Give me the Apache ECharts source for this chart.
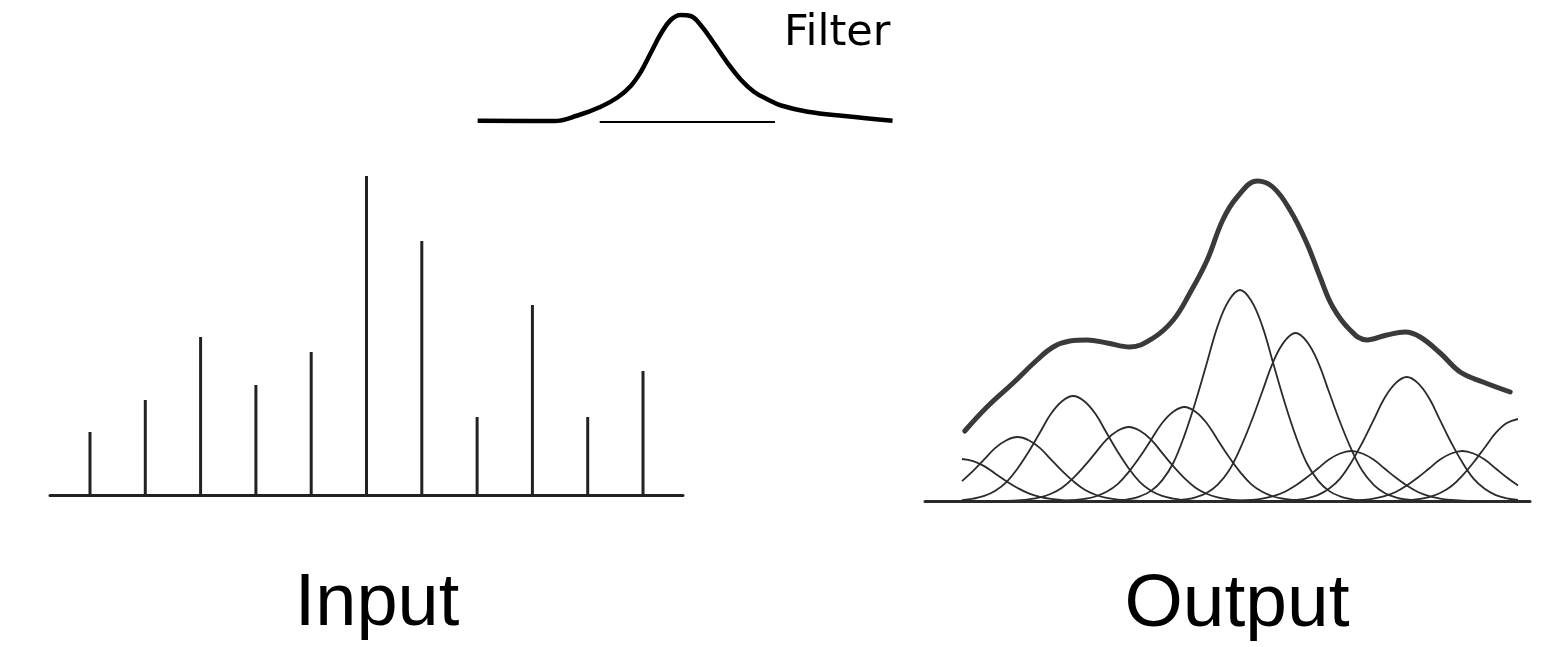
<!DOCTYPE html>
<html>
<head>
<meta charset="utf-8">
<script src="https://cdn.jsdelivr.net/npm/echarts@6/dist/echarts.min.js"></script>
<style>
  html, body { margin: 0; padding: 0; background: #fff; }
  #main { width: 1554px; height: 647px; }
</style>
</head>
<body>
<div id="main"></div>
<script>
// input spikes (position index, height)
var spikePos = [1, 2, 3, 4, 5, 6, 7, 8, 9, 10, 11];
var spikeHeights = [63, 95, 158, 110, 143, 319, 254, 78, 190, 78, 124];

// output: one bump per input spike, peak heights
var bumpPeaks = [42, 64, 105, 74, 94, 211, 168, 50, 124, 50, 82];
// shape of one bump (offset from its centre, relative height)
var bumpOffsets = [-2.2, -2, -1.8, -1.6, -1.4, -1.2, -1, -0.8, -0.6, -0.4, -0.2, 0, 0.2, 0.4, 0.6, 0.8, 1, 1.2, 1.4, 1.6, 1.8, 2, 2.2];
var bumpShape = [0, 0.009, 0.022, 0.048, 0.098, 0.18, 0.31, 0.47, 0.65, 0.83, 0.95, 1, 0.95, 0.83, 0.65, 0.47, 0.31, 0.18, 0.098, 0.048, 0.022, 0.009, 0];

// thick summed output curve
var sumX = [1.05, 1.45, 1.92, 2.35, 2.64, 2.94, 3.25, 3.61, 4.02, 4.44, 4.8, 5.1, 5.41, 5.69, 5.95, 6.31, 6.59, 6.9, 7.2, 7.44, 7.67, 7.98, 8.28, 8.64, 8.97, 9.24, 9.6, 9.96, 10.37, 10.86];
var sumY = [70, 94, 118, 141, 154, 160, 161, 158, 154, 163, 181, 208, 241, 281, 304, 320, 314, 291, 258, 224, 194, 171, 161, 166, 169, 164, 148, 129, 119, 109];

// filter curve at the top
var filterX = [-3.7, -2.32, -1.9, -1.48, -1.18, -0.94, -0.76, -0.58, -0.4, -0.22, -0.04, 0.14, 0.32, 0.56, 0.81, 1.05, 1.28, 1.53, 1.77, 2.25, 2.91, 3.78];
var filterY = [1.3, 1, 6.5, 15.3, 24.5, 36, 50, 69, 88, 102, 107, 106, 97, 78.7, 58.7, 42, 30.3, 22.5, 16.5, 10.3, 6, 1.3];
var filterBase = [-1.5, 1.66];

var SANS = '"Liberation Sans", Arial, Helvetica, sans-serif';

var myChart = echarts.init(document.getElementById('main'), null, { renderer: 'canvas' });

function pairs(xs, ys) {
  return xs.map(function (x, i) { return [x, ys[i]]; });
}

var series = [];

// filter
series.push({
  type: 'line', xAxisIndex: 0, yAxisIndex: 0,
  data: pairs(filterX, filterY),
  smooth: 0.4, showSymbol: false, clip: false,
  lineStyle: { color: '#000', width: 4.5 }
});
series.push({
  type: 'line', xAxisIndex: 0, yAxisIndex: 0,
  data: [[filterBase[0], 0], [filterBase[1], 0]],
  showSymbol: false, clip: false,
  lineStyle: { color: '#000', width: 2 }
});

// input spikes
series.push({
  type: 'bar', xAxisIndex: 1, yAxisIndex: 1,
  data: pairs(spikePos, spikeHeights),
  barWidth: 3,
  itemStyle: { color: '#222' }
});

// output bumps, cut off at the first and last centre like the drawing
bumpPeaks.forEach(function (h, i) {
  var c = spikePos[i];
  var pts = [];
  bumpOffsets.forEach(function (o, j) {
    var x = c + o;
    if (x >= 0.99 && x <= 11.01) pts.push([x, h * bumpShape[j]]);
  });
  series.push({
    type: 'line', xAxisIndex: 2, yAxisIndex: 2,
    data: pts, smooth: 0.4, showSymbol: false, clip: false,
    lineStyle: { color: '#2b2b2b', width: 1.8 }
  });
});

// summed output
series.push({
  type: 'line', xAxisIndex: 2, yAxisIndex: 2,
  data: pairs(sumX, sumY), smooth: 0.4, showSymbol: false, clip: false,
  lineStyle: { color: '#3a3a3a', width: 5, cap: 'round' }
});

var hidden = { show: false };
var option = {
  backgroundColor: '#fff',
  animation: false,
  grid: [
    { left: 476, top: 12, width: 416, height: 110 },
    { left: 50, top: 165, width: 633, height: 330 },
    { left: 925, top: 171, width: 605, height: 330 }
  ],
  xAxis: [
    { type: 'value', gridIndex: 0, min: -3.73, max: 3.77, show: false },
    { type: 'value', gridIndex: 1, min: 0.277, max: 11.723,
      axisLine: { show: true, onZero: false, lineStyle: { color: '#222', width: 3 } },
      axisTick: hidden, axisLabel: hidden, splitLine: hidden },
    { type: 'value', gridIndex: 2, min: 0.335, max: 11.216,
      axisLine: { show: true, onZero: false, lineStyle: { color: '#2a2a2a', width: 3 } },
      axisTick: hidden, axisLabel: hidden, splitLine: hidden }
  ],
  yAxis: [
    { type: 'value', gridIndex: 0, min: 0, max: 110, show: false },
    { type: 'value', gridIndex: 1, min: 0, max: 330, show: false },
    { type: 'value', gridIndex: 2, min: 0, max: 330, show: false }
  ],
  graphic: [
    { type: 'text', left: 784, top: 12,
      style: { text: 'Filter', font: '43px "DejaVu Sans", sans-serif', fill: '#000' } },
    { type: 'text', x: 377, y: 568,
      style: { text: 'Input', font: '74px ' + SANS, fill: '#000', textAlign: 'center', textVerticalAlign: 'top' } },
    { type: 'text', x: 1237, y: 568,
      style: { text: 'Output', font: '75px ' + SANS, fill: '#000', textAlign: 'center', textVerticalAlign: 'top' } }
  ],
  series: series
};

myChart.setOption(option);
</script>
</body>
</html>
